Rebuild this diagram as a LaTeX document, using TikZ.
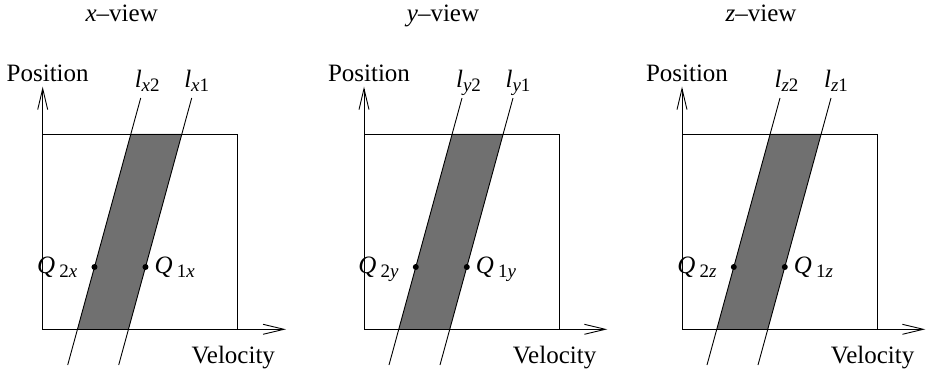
\documentclass[tikz,border=0pt]{standalone}
\usepackage{fontspec}
\setmainfont{Liberation Serif}
\usetikzlibrary{arrows.meta,calc}
\newcommand\subtx[1]{\raisebox{-0.35ex}{\fontsize{19}{19}\selectfont #1}}
\begin{document}
\begin{tikzpicture}[x=1pt,y=-1pt,
  lbl/.style={font=\fontsize{25}{28}\selectfont, inner sep=0pt},
  axis/.style={line width=0.9pt, -{Straight Barb[length=21pt,width=10pt,line width=0.9pt]}},
  edge/.style={line width=0.9pt},
  shade/.style={fill=black!56},
  qdot/.style={circle, fill=black, inner sep=0pt, minimum size=6pt}]
\useasboundingbox (0,0) rectangle (927,375);
\foreach \ox/\v in {42.7/x, 364/y, 682/z}{
\begin{scope}[shift={(\ox,0)}]
  \coordinate (o\v) at (0,329.3);
  \coordinate (tl\v) at (0,134);
  \coordinate (br\v) at (195,329.3);
  \coordinate (ytip\v) at (0,86.7);
  \coordinate (xtip\v) at (243.3,329.3);
  \coordinate (atb\v) at (25,365);
  \coordinate (att\v) at (98,98);
  \coordinate (btb\v) at (76,365);
  \coordinate (btt\v) at (149,98);
  \fill[shade] ($(atb\v)!0.1337!(att\v)$) -- ($(btb\v)!0.1337!(btt\v)$)
     -- ($(btb\v)!0.8652!(btt\v)$) -- ($(atb\v)!0.8652!(att\v)$) -- cycle;
  \draw[edge] (tl\v) rectangle (br\v);
  \draw[axis] (o\v) -- (ytip\v);
  \draw[axis] (o\v) -- (xtip\v);
  \draw[edge] (atb\v) -- (att\v);
  \draw[edge] (btb\v) -- (btt\v);
  \node[qdot] (q2\v) at ($(atb\v)!0.367!(att\v)$) {};
  \node[qdot] (q1\v) at ($(btb\v)!0.367!(btt\v)$) {};
  \node[lbl, anchor=base] (title\v) at (79,21.5) {\textit{\v}–view};
  \node[lbl, anchor=base] (pos\v) at (5,81.5) {Position};
  \node[lbl, anchor=base] (vel\v) at (190.6,363.5) {Velocity};
  \node[lbl, anchor=base] (la\v) at (104.5,87) {\textit{l}\subtx{\textit{\v}2}};
  \node[lbl, anchor=base] (lb\v) at (154,87) {\textit{l}\subtx{\textit{\v}1}};
  \node[lbl, anchor=base east] (qa\v) at ($(q2\v)+(-17,6)$) {\textit{Q}\,\subtx{2\textit{\v}}};
  \node[lbl, anchor=base west] (qb\v) at ($(q1\v)+(9,6)$) {\textit{Q}\,\subtx{1\textit{\v}}};
\end{scope}}
\end{tikzpicture}
\end{document}
